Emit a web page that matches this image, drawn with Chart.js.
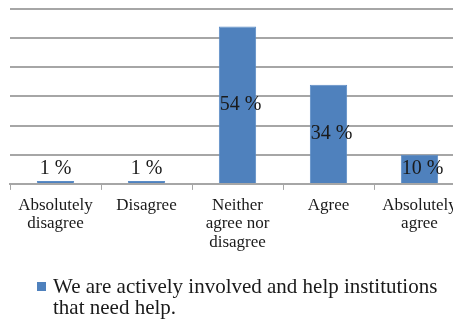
<!DOCTYPE html>
<html>
<head>
<meta charset="utf-8">
<script src="https://cdn.jsdelivr.net/npm/chart.js@4"></script>
<style>
  html, body { margin: 0; padding: 0; background: #fff; overflow: hidden; }
</style>
</head>
<body>
<canvas id="bars" width="475" height="322"></canvas>
<script>
const categories = [
  ['Absolutely', 'disagree'],
  ['Disagree'],
  ['Neither', 'agree nor', 'disagree'],
  ['Agree'],
  ['Absolutely', 'agree']
];
const percents = [1, 1, 54, 34, 10];
const seriesName = ['We are actively involved and help institutions', 'that need help.'];

const serif = 'Liberation Serif, Times New Roman, serif';
const barBlue = '#4f81bd';
const gridGray = '#a6a6a6';

// percent labels on the bars: centred if the bar is tall enough, above it otherwise
const barLabels = {
  id: 'barLabels',
  afterDatasetsDraw(chart) {
    const ctx = chart.ctx;
    const meta = chart.getDatasetMeta(0);
    ctx.save();
    ctx.font = '20px ' + serif;
    ctx.fillStyle = '#1a1a1a';
    ctx.textAlign = 'center';
    meta.data.forEach((bar, i) => {
      const txt = percents[i] + ' %';
      const h = bar.base - bar.y;
      if (h > 24) {
        ctx.textBaseline = 'middle';
        ctx.fillText(txt, bar.x + 3, (bar.y + bar.base) / 2);
      } else {
        ctx.textBaseline = 'alphabetic';
        ctx.fillText(txt, bar.x, bar.y - 7);
      }
    });
    ctx.restore();
  }
};

// legend below the axis labels, wrapped on two lines
const wrapLegend = {
  id: 'wrapLegend',
  afterDraw(chart) {
    const ctx = chart.ctx;
    const top = chart.scales.x.bottom;
    ctx.save();
    ctx.fillStyle = barBlue;
    ctx.fillRect(37, top + 24, 9, 9);
    ctx.font = '21px ' + serif;
    ctx.fillStyle = '#1a1a1a';
    ctx.textBaseline = 'alphabetic';
    seriesName.forEach((line, i) => {
      ctx.fillText(line, 53, top + 35 + i * 21);
    });
    ctx.restore();
  }
};

new Chart(document.getElementById('bars'), {
  type: 'bar',
  data: {
    labels: categories,
    datasets: [{
      label: seriesName.join(' '),
      data: percents,
      backgroundColor: barBlue,
      borderColor: '#5b8cc6',
      borderWidth: 1,
      barPercentage: 0.41,
      categoryPercentage: 1
    }]
  },
  options: {
    responsive: false,
    animation: false,
    layout: { padding: { left: 10, right: 10, top: 9, bottom: 64 } },
    plugins: {
      legend: { display: false },
      tooltip: { enabled: false }
    },
    scales: {
      x: {
        grid: {
          drawOnChartArea: false,
          drawTicks: true,
          tickLength: 6,
          color: gridGray
        },
        border: { display: true, color: gridGray, width: 2 },
        ticks: {
          autoSkip: false,
          maxRotation: 0,
          padding: 6,
          color: '#1a1a1a',
          font: { family: serif, size: 17, lineHeight: 1.1 }
        }
      },
      y: {
        min: 0,
        max: 60,
        ticks: { display: false, stepSize: 10 },
        border: { display: false },
        grid: { drawTicks: false, color: gridGray, lineWidth: 2 }
      }
    }
  },
  plugins: [barLabels, wrapLegend]
});
</script>
</body>
</html>
